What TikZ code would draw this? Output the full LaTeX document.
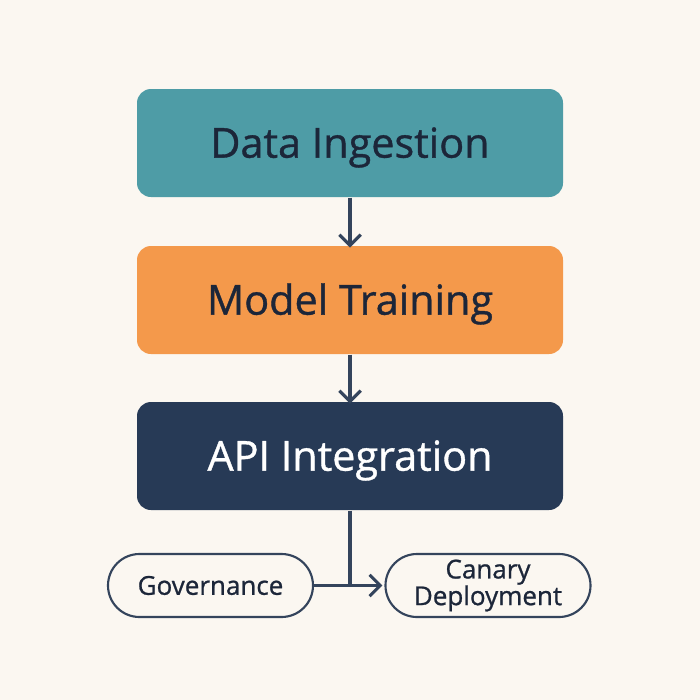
\documentclass[tikz,border=0pt]{standalone}
\usepackage{fontspec}
\setmainfont{Open Sans}[UprightFeatures={FakeBold=0.9}]
\usetikzlibrary{arrows.meta}
\definecolor{bgcream}{HTML}{FBF7F1}
\definecolor{tealbox}{HTML}{4E9CA6}
\definecolor{orangebox}{HTML}{F4994B}
\definecolor{navybox}{HTML}{273A56}
\definecolor{inkdark}{HTML}{1C2639}
\definecolor{pillline}{HTML}{34445C}
\tikzset{every picture/.style={line width=0.75pt}}
\tikzset{
  stagebox/.style={rounded corners=10.5pt, minimum width=319.5pt, minimum height=81pt, font=\fontsize{31}{36}\selectfont, text=inkdark, text height=22pt, text depth=0pt},
  pillbox/.style={draw=pillline, line width=1.6pt, fill=bgcream, rounded corners=23.6pt, minimum width=153.75pt, minimum height=47.25pt, align=center, font=\fontsize{19.5}{20}\selectfont, text=inkdark, inner sep=0pt},
  flowline/.style={draw=pillline, line width=2.3pt},
  flowarrow/.style={flowline, -{Straight Barb[length=8pt, width=16pt, line width=2.3pt]}}
}

\begin{document}
\begin{tikzpicture}[x=0.75pt,y=0.75pt,yscale=-1,xscale=1]
%set diagram area 700 x 700
\fill [bgcream] (0,0) rectangle (700,700);
\useasboundingbox (0,0) rectangle (700,700);

% Text Node
\node (ingest) [stagebox, fill=tealbox] at (350,143) {Data Ingestion};
% Text Node
\node (train) [stagebox, fill=orangebox] at (350,300) {Model Training};
% Text Node
\node (api) [stagebox, fill=navybox, text=white] at (350,456) {API Integration};
% Text Node
\node (gov) [pillbox] at (210.5,585.5) {Governance};
% Text Node
\node (canary) [pillbox] at (488,585.5) {Canary\\Deployment};

%Straight Lines
\draw [flowarrow] (ingest) -- ([yshift=1.5pt]train.north);
%Straight Lines
\draw [flowarrow] (train) -- ([yshift=1.5pt]api.north);
%Straight Lines
\draw [flowline] (api.south) -- (api.south |- gov.east);
%Straight Lines
\draw [flowarrow] (gov) -- ([xshift=-1.5pt]canary.west);

\end{tikzpicture}
\end{document}
